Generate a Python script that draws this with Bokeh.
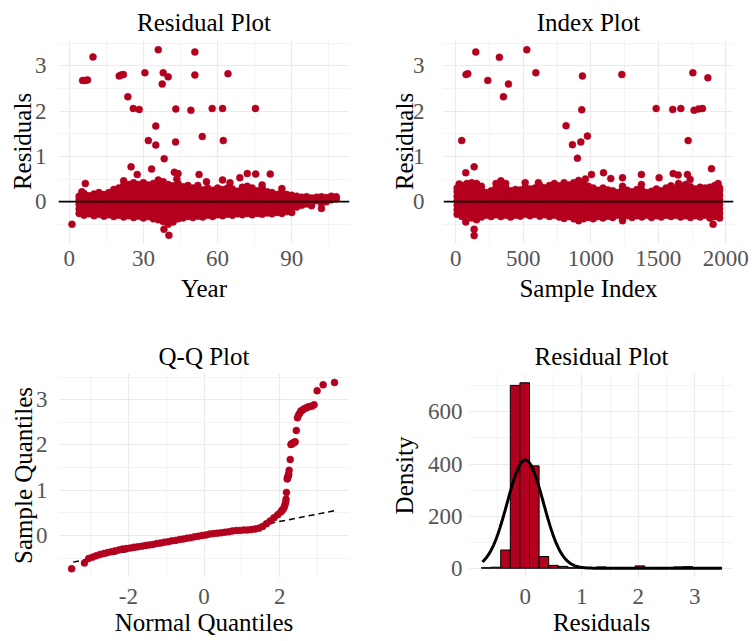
import numpy as np
from bokeh.plotting import figure
from bokeh.layouts import row, column
from bokeh.models import FixedTicker, Span, Range1d
from bokeh.embed import file_html
from bokeh.resources import INLINE

RED = "#B3001E"
FONT = "Liberation Serif"

# ---------------- data: residuals vs year ----------------
year_out_x = [1.1, 5.4, 6.5, 7.4, 9.6, 20.2, 21.0, 21.9, 23.7, 25.9, 28.3, 30.6, 36.0, 38.0, 40.0, 37.6,
              43.1, 49.2, 50.8, 50.8, 57.8, 62.0, 64.2, 75.3, 35.0, 32.0, 35.0, 43.0, 53.8, 62.3, 38.4,
              25.0, 27.5, 33.3, 42.5, 44.0, 43.5, 52.5, 55.5, 62.0, 65.0, 69.0, 72.0, 75.4, 81.3, 78.0,
              86.0, 38.3, 40.3, 6.5, 5.1]
year_out_r = [-0.50, 2.68, 2.68, 2.69, 3.20, 2.78, 2.80, 2.81, 2.32, 2.06, 2.04, 2.85, 3.36, 2.85, 2.76, 2.60,
              2.05, 2.02, 3.31, 2.80, 2.06, 2.06, 2.83, 2.06, 1.67, 1.35, 1.25, 1.32, 1.44, 1.35, 0.95,
              0.77, 0.60, 0.72, 0.65, 0.62, 0.50, 0.60, 0.44, 0.48, 0.42, 0.53, 0.62, 0.61, 0.61, 0.37,
              0.29, -0.61, -0.745, 0.40, 0.22]
year_band_x = [4, 6, 8, 10, 12, 14, 16, 18, 20, 22, 24, 26, 28, 30, 32, 34, 36, 38, 40, 42, 44, 46, 48,
               50, 52, 54, 56, 58, 60, 62, 64, 66, 68, 70, 72, 74, 76, 78, 80, 82, 84, 86, 88, 90,
               92, 94, 96, 98, 100, 102, 104, 106, 108]
year_band_r = [
    [-0.26, -0.16, -0.06, 0.04, 0.12],
    [-0.3, -0.2, -0.1, 0.0, 0.1, 0.18],
    [-0.27, -0.17, -0.07, 0.03, 0.13],
    [-0.31, -0.21, -0.11, -0.01, 0.09, 0.17],
    [-0.28, -0.18, -0.08, 0.02, 0.12, 0.2],
    [-0.32, -0.22, -0.12, -0.02, 0.08, 0.16],
    [-0.29, -0.19, -0.09, 0.01, 0.11, 0.2],
    [-0.33, -0.23, -0.13, -0.03, 0.07, 0.17, 0.27],
    [-0.3, -0.2, -0.1, 0.0, 0.1, 0.2, 0.3],
    [-0.34, -0.24, -0.14, -0.04, 0.06, 0.16, 0.26, 0.36, 0.46],
    [-0.31, -0.21, -0.11, -0.01, 0.09, 0.19, 0.29, 0.38],
    [-0.35, -0.25, -0.15, -0.05, 0.05, 0.15, 0.25, 0.35, 0.42],
    [-0.32, -0.22, -0.12, -0.02, 0.08, 0.18, 0.28, 0.38],
    [-0.36, -0.26, -0.16, -0.06, 0.04, 0.14, 0.24, 0.34, 0.42],
    [-0.33, -0.23, -0.13, -0.03, 0.07, 0.17, 0.27, 0.37],
    [-0.38, -0.28, -0.18, -0.08, 0.02, 0.12, 0.22, 0.32, 0.4],
    [-0.4, -0.3, -0.2, -0.1, 0.0, 0.1, 0.2, 0.3, 0.42, 0.48],
    [-0.44, -0.34, -0.24, -0.14, -0.04, 0.06, 0.16, 0.26, 0.36, 0.44],
    [-0.5, -0.41, -0.31, -0.21, -0.11, -0.01, 0.09, 0.19, 0.29, 0.38],
    [-0.45, -0.35, -0.25, -0.15, -0.05, 0.05, 0.15, 0.25, 0.35],
    [-0.38, -0.28, -0.18, -0.08, 0.02, 0.12, 0.22, 0.32, 0.4],
    [-0.36, -0.26, -0.16, -0.06, 0.04, 0.14, 0.24, 0.33],
    [-0.33, -0.23, -0.13, -0.03, 0.07, 0.17, 0.27, 0.36],
    [-0.35, -0.25, -0.15, -0.05, 0.05, 0.15, 0.25, 0.3],
    [-0.32, -0.22, -0.12, -0.02, 0.08, 0.18, 0.28, 0.36],
    [-0.34, -0.24, -0.14, -0.04, 0.06, 0.16, 0.26],
    [-0.3, -0.2, -0.1, 0.0, 0.1, 0.2, 0.3],
    [-0.33, -0.23, -0.13, -0.03, 0.07, 0.17, 0.25],
    [-0.29, -0.19, -0.09, 0.01, 0.11, 0.21, 0.3],
    [-0.31, -0.21, -0.11, -0.01, 0.09, 0.19, 0.27],
    [-0.28, -0.18, -0.08, 0.02, 0.12, 0.22, 0.3],
    [-0.3, -0.2, -0.1, 0.0, 0.1, 0.2, 0.28],
    [-0.27, -0.17, -0.07, 0.03, 0.13, 0.23],
    [-0.29, -0.19, -0.09, 0.01, 0.11, 0.21, 0.32],
    [-0.26, -0.16, -0.06, 0.04, 0.14, 0.24, 0.34],
    [-0.29, -0.19, -0.09, 0.01, 0.11, 0.21, 0.3],
    [-0.26, -0.16, -0.06, 0.04, 0.14, 0.24],
    [-0.28, -0.18, -0.08, 0.02, 0.12, 0.22, 0.3],
    [-0.25, -0.15, -0.05, 0.05, 0.15, 0.22],
    [-0.27, -0.17, -0.07, 0.03, 0.13, 0.2],
    [-0.24, -0.14, -0.04, 0.06, 0.16],
    [-0.26, -0.16, -0.06, 0.04, 0.14, 0.22],
    [-0.22, -0.12, -0.02, 0.08, 0.16],
    [-0.24, -0.14, -0.04, 0.06, 0.14],
    [-0.12, -0.03, 0.06, 0.12],
    [-0.08, 0.02, 0.1],
    [-0.05, 0.04, 0.11],
    [-0.09, 0.0, 0.08],
    [0.02, 0.1],
    [-0.15, -0.04, 0.05, 0.11],
    [0.0, 0.09],
    [0.04, 0.12],
    [0.06, 0.11],
]

# ---------------- data: residuals vs sample index ----------------
idx_out_x = [148, 526, 323, 76, 89, 237, 390, 353, 593, 938, 933, 1230, 1756, 1867, 1484, 1607, 1667,
             1765, 1798, 1827, 44, 817, 864, 926, 975, 901, 1721,
             136, 74, 25, 1005, 960, 1094, 1148, 1235, 1235, 1375, 1375, 1506, 1610, 1647, 1650, 1716,
             1736, 1894, 1943, 612, 1906, 74, 136, 136, 1235]
idx_out_r = [3.31, 3.36, 3.19, 2.81, 2.83, 2.68, 2.60, 2.32, 2.85, 2.78, 2.03, 2.81, 2.85, 2.74, 2.06, 2.04, 2.06,
             2.02, 2.05, 2.06, 1.35, 1.68, 1.26, 1.32, 1.45, 0.96, 1.35,
             0.77, 0.64, 0.39, 0.60, 0.50, 0.64, 0.51, 0.53, 0.34, 0.60, 0.38, 0.53, 0.62, 0.59, 0.40, 0.60,
             0.49, 0.73, 0.40, 0.42, -0.50, -0.45, -0.61, -0.75, -0.42]
idx_band_x = [10, 46, 82, 118, 154, 190, 226, 262, 298, 334, 370, 406, 442, 478, 514, 550, 586, 622, 658,
              694, 730, 766, 802, 838, 874, 910, 946, 982, 1018, 1054, 1090, 1126, 1162, 1198, 1234, 1270,
              1306, 1342, 1378, 1414, 1450, 1486, 1522, 1558, 1594, 1630, 1666, 1702, 1738, 1774, 1810,
              1846, 1882, 1918, 1954]
idx_band_r = [
    [-0.28, -0.18, -0.08, 0.02, 0.12, 0.22, 0.3],
    [-0.33, -0.23, -0.13, -0.03, 0.07, 0.17, 0.27, 0.36],
    [-0.3, -0.2, -0.1, 0.0, 0.1, 0.2, 0.3, 0.4],
    [-0.36, -0.26, -0.16, -0.06, 0.04, 0.14, 0.24, 0.34, 0.42],
    [-0.4, -0.3, -0.2, -0.1, 0.0, 0.1, 0.2, 0.3, 0.4],
    [-0.34, -0.24, -0.14, -0.04, 0.06, 0.16, 0.26, 0.34],
    [-0.3, -0.2, -0.1, 0.0, 0.1, 0.2],
    [-0.33, -0.23, -0.13, -0.03, 0.07, 0.17, 0.24],
    [-0.29, -0.19, -0.09, 0.01, 0.11, 0.21, 0.31, 0.4],
    [-0.33, -0.23, -0.13, -0.03, 0.07, 0.17, 0.27, 0.37, 0.46],
    [-0.3, -0.2, -0.1, 0.0, 0.1, 0.2, 0.3, 0.4],
    [-0.34, -0.24, -0.14, -0.04, 0.06, 0.16, 0.24],
    [-0.3, -0.2, -0.1, 0.0, 0.1, 0.2, 0.27],
    [-0.32, -0.22, -0.12, -0.02, 0.08, 0.18, 0.26],
    [-0.28, -0.18, -0.08, 0.02, 0.12, 0.22, 0.32, 0.42],
    [-0.31, -0.21, -0.11, -0.01, 0.09, 0.19, 0.28],
    [-0.28, -0.18, -0.08, 0.02, 0.12, 0.22, 0.3],
    [-0.32, -0.22, -0.12, -0.02, 0.08, 0.18, 0.28, 0.36],
    [-0.29, -0.19, -0.09, 0.01, 0.11, 0.21, 0.31],
    [-0.33, -0.23, -0.13, -0.03, 0.07, 0.17, 0.27, 0.36],
    [-0.3, -0.2, -0.1, 0.0, 0.1, 0.2, 0.3, 0.4],
    [-0.34, -0.24, -0.14, -0.04, 0.06, 0.16, 0.26, 0.35],
    [-0.37, -0.27, -0.17, -0.07, 0.03, 0.13, 0.23, 0.33, 0.42],
    [-0.33, -0.23, -0.13, -0.03, 0.07, 0.17, 0.27, 0.37],
    [-0.38, -0.28, -0.18, -0.08, 0.02, 0.12, 0.22, 0.32, 0.42],
    [-0.42, -0.32, -0.22, -0.12, -0.02, 0.08, 0.18, 0.28, 0.38, 0.47],
    [-0.38, -0.28, -0.18, -0.08, 0.02, 0.12, 0.22, 0.32, 0.4],
    [-0.35, -0.25, -0.15, -0.05, 0.05, 0.15, 0.25, 0.34],
    [-0.38, -0.28, -0.18, -0.08, 0.02, 0.12, 0.22, 0.3],
    [-0.33, -0.23, -0.13, -0.03, 0.07, 0.17, 0.25],
    [-0.36, -0.26, -0.16, -0.06, 0.04, 0.14, 0.24, 0.3],
    [-0.32, -0.22, -0.12, -0.02, 0.08, 0.18, 0.26],
    [-0.35, -0.25, -0.15, -0.05, 0.05, 0.15, 0.24],
    [-0.3, -0.2, -0.1, 0.0, 0.1, 0.2],
    [-0.34, -0.24, -0.14, -0.04, 0.06, 0.16, 0.26],
    [-0.31, -0.21, -0.11, -0.01, 0.09, 0.19, 0.25],
    [-0.35, -0.25, -0.15, -0.05, 0.05, 0.15, 0.22],
    [-0.31, -0.21, -0.11, -0.01, 0.09, 0.19, 0.27],
    [-0.34, -0.24, -0.14, -0.04, 0.06, 0.16, 0.25],
    [-0.3, -0.2, -0.1, 0.0, 0.1, 0.2],
    [-0.35, -0.25, -0.15, -0.05, 0.05, 0.15, 0.23],
    [-0.31, -0.21, -0.11, -0.01, 0.09, 0.19, 0.28],
    [-0.34, -0.24, -0.14, -0.04, 0.06, 0.16, 0.24],
    [-0.3, -0.2, -0.1, 0.0, 0.1, 0.2, 0.3],
    [-0.33, -0.23, -0.13, -0.03, 0.07, 0.17, 0.27, 0.35],
    [-0.3, -0.2, -0.1, 0.0, 0.1, 0.2, 0.3],
    [-0.34, -0.24, -0.14, -0.04, 0.06, 0.16, 0.26, 0.34],
    [-0.31, -0.21, -0.11, -0.01, 0.09, 0.19, 0.29, 0.38],
    [-0.35, -0.25, -0.15, -0.05, 0.05, 0.15, 0.25, 0.33],
    [-0.31, -0.21, -0.11, -0.01, 0.09, 0.19, 0.28],
    [-0.34, -0.24, -0.14, -0.04, 0.06, 0.16, 0.26, 0.32],
    [-0.3, -0.2, -0.1, 0.0, 0.1, 0.2, 0.3],
    [-0.36, -0.26, -0.16, -0.06, 0.04, 0.14, 0.24, 0.32],
    [-0.33, -0.23, -0.13, -0.03, 0.07, 0.17, 0.27, 0.36],
    [-0.36, -0.26, -0.16, -0.06, 0.04, 0.14, 0.24, 0.3],
]

# ---------------- data: Q-Q plot ----------------
qq_theo = [-3.5, -3.16, -3.05, -2.95, -2.85, -2.75, -2.65, -2.55, -2.45, -2.35, -2.25, -2.15, -2.05,
           -1.95, -1.85, -1.75, -1.65, -1.55, -1.45, -1.35, -1.25, -1.15, -1.05, -0.95, -0.85, -0.75,
           -0.65, -0.55, -0.45, -0.35, -0.25, -0.15, -0.05, 0.05, 0.15, 0.25, 0.35, 0.45, 0.55, 0.65,
           0.75, 0.85, 0.95, 1.05, 1.15, 1.25, 1.35, 1.45, 1.55, 1.65, 1.75, 1.85, 1.95,
           2.03, 2.06, 2.09, 2.12, 2.14, 2.16, 2.17, 2.18, 2.20, 2.21, 2.22, 2.23, 2.24, 2.25, 2.28,
           2.30, 2.31, 2.33, 2.35, 2.37, 2.39, 2.41, 2.44, 2.47, 2.50, 2.53, 2.56, 2.60, 2.65, 2.70,
           2.75, 2.80, 2.86, 2.91, 2.99, 3.15, 3.45]
qq_samp = [-0.735, -0.61, -0.51, -0.48, -0.45, -0.42, -0.40, -0.38, -0.36, -0.34, -0.32, -0.30, -0.29,
           -0.28, -0.26, -0.25, -0.24, -0.22, -0.21, -0.20, -0.18, -0.17, -0.15, -0.14, -0.12, -0.11,
           -0.09, -0.08, -0.06, -0.05, -0.03, -0.02, 0.00, 0.01, 0.03, 0.04, 0.05, 0.06, 0.07, 0.08,
           0.10, 0.11, 0.11, 0.12, 0.12, 0.13, 0.14, 0.16, 0.20, 0.26, 0.32, 0.39, 0.46,
           0.52, 0.55, 0.58, 0.62, 0.68, 0.74, 0.80, 0.95, 1.25, 1.27, 1.30, 1.33, 1.35, 1.44, 1.68,
           2.01, 2.02, 2.03, 2.04, 2.05, 2.06, 2.07, 2.32, 2.60, 2.66, 2.70, 2.75, 2.77, 2.80, 2.82,
           2.84, 2.85, 2.86, 2.89, 3.20, 3.33, 3.38]
qq_line_x = [-3.46, 3.47]
qq_line_y = [-0.59, 0.55]

# ---------------- data: histogram ----------------
hist_start = -0.776
hist_width = 0.17
hist_counts = [2, 4, 70, 702, 712, 393, 45, 11, 7, 2, 2, 1, 5, 1, 1, 0, 9, 0, 1, 1, 5, 6, 0, 1, 2]
dens_n = 1960
dens_mean = 0.0
dens_sd = 0.32
dens_from, dens_to = -0.76, 3.48


def style(p, xt, xm, yt, ym, xover=None, ylab_standoff=6, yaxis_standoff=-4,
          xlab_standoff=1, xaxis_standoff=6):
    p.title.text_font = FONT
    p.title.text_font_size = "25px"
    p.title.text_font_style = "normal"
    p.title.text_color = "#000000"
    p.title.align = "center"
    p.title.standoff = 8
    p.outline_line_color = None
    p.background_fill_color = "white"
    p.border_fill_color = "white"
    p.xaxis.ticker = FixedTicker(ticks=xt, minor_ticks=xm)
    p.yaxis.ticker = FixedTicker(ticks=yt, minor_ticks=ym)
    if xover:
        p.xaxis.major_label_overrides = xover
    for ax in (p.xaxis, p.yaxis):
        ax.axis_line_color = None
        ax.major_tick_line_color = None
        ax.minor_tick_line_color = None
        ax.major_label_text_font = FONT
        ax.major_label_text_font_size = "23px"
        ax.major_label_text_color = "#555555"
        ax.axis_label_text_font = FONT
        ax.axis_label_text_font_size = "25px"
        ax.axis_label_text_font_style = "normal"
        ax.axis_label_text_color = "#000000"
    p.xaxis.major_label_standoff = xlab_standoff
    p.xaxis.axis_label_standoff = xaxis_standoff
    p.yaxis.major_label_standoff = ylab_standoff
    p.yaxis.axis_label_standoff = yaxis_standoff
    for g in (p.xgrid, p.ygrid):
        g.grid_line_color = "#EBEBEB"
        g.grid_line_width = 1.2
        g.minor_grid_line_color = "#F2F2F2"
        g.minor_grid_line_width = 0.9


def flat(xs, cols):
    fx, fy = [], []
    for x, c in zip(xs, cols):
        for v in c:
            fx.append(x)
            fy.append(v)
    return fx, fy


res_yticks = [0, 1, 2, 3]
res_yminor = [-0.5, 0.5, 1.5, 2.5, 3.5]

# --- panel 1: residuals vs year
p1 = figure(width=376, height=320, x_range=Range1d(-4.35, 113.35), y_range=Range1d(-0.925, 3.585),
            output_backend="svg", toolbar_location=None, title="Residual Plot",
            x_axis_label="Year", y_axis_label="Residuals",
            min_border_left=58, min_border_right=27, min_border_top=39, min_border_bottom=77)
style(p1, [0, 30, 60, 90], [15, 45, 75, 105], res_yticks, res_yminor)
bx, by = flat(year_band_x, year_band_r)
p1.scatter(bx + year_out_x, by + year_out_r, size=7, fill_color=RED, line_color=RED, line_width=0.5)
p1.add_layout(Span(location=0, dimension="width", line_color="black", line_width=1.6))

# --- panel 2: residuals vs index
p2 = figure(width=376, height=320, x_range=Range1d(-91, 2057), y_range=Range1d(-0.925, 3.585),
            output_backend="svg", toolbar_location=None, title="Index Plot",
            x_axis_label="Sample Index", y_axis_label="Residuals",
            min_border_left=67, min_border_right=19, min_border_top=39, min_border_bottom=77)
style(p2, [0, 500, 1000, 1500, 2000], [250, 750, 1250, 1750], res_yticks, res_yminor,
      ylab_standoff=13, yaxis_standoff=-8)
ix, iy = flat(idx_band_x, idx_band_r)
p2.scatter(ix + idx_out_x, iy + idx_out_r, size=7, fill_color=RED, line_color=RED, line_width=0.5)
p2.add_layout(Span(location=0, dimension="width", line_color="black", line_width=1.6))

# --- panel 3: Q-Q plot
p3 = figure(width=376, height=321, x_range=Range1d(-3.82, 3.82), y_range=Range1d(-0.93, 3.58),
            output_backend="svg", toolbar_location=None, title="Q-Q Plot",
            x_axis_label="Normal Quantiles", y_axis_label="Sample Quantiles",
            min_border_left=59, min_border_right=28, min_border_top=53, min_border_bottom=64)
style(p3, [-2, 0, 2], [-3, -1, 1, 3], res_yticks, res_yminor, xover={-2: "-2", 0: "0", 2: "2"},
      xlab_standoff=5, xaxis_standoff=2)
p3.line(qq_line_x, qq_line_y, line_color="black", line_width=1.5, line_dash="6 4")
p3.scatter(qq_theo, qq_samp, size=7, fill_color=RED, line_color=RED, line_width=0.5)

# --- panel 4: histogram with normal curve
edges = hist_start + hist_width * np.arange(len(hist_counts) + 1)
p4 = figure(width=376, height=321, x_range=Range1d(-0.9885, 3.686), y_range=Range1d(-35.6, 747.6),
            output_backend="svg", toolbar_location=None, title="Residual Plot",
            x_axis_label="Residuals", y_axis_label="Density",
            min_border_left=93, min_border_right=19, min_border_top=53, min_border_bottom=64)
style(p4, [0, 1, 2, 3], [-0.5, 0.5, 1.5, 2.5, 3.5], [0, 200, 400, 600], [100, 300, 500, 700],
      ylab_standoff=1, yaxis_standoff=7, xlab_standoff=5, xaxis_standoff=2)
p4.quad(left=edges[:-1], right=edges[1:], bottom=0, top=hist_counts,
        fill_color=RED, line_color="black", line_width=1)
xs = np.linspace(dens_from, dens_to, 300)
ys = dens_n * hist_width * np.exp(-0.5 * ((xs - dens_mean) / dens_sd) ** 2) / (dens_sd * np.sqrt(2 * np.pi))
p4.line(xs, ys, line_color="black", line_width=3)

layout = column(row(p1, p2), row(p3, p4))
open("out.html", "w").write(file_html(layout, INLINE))
